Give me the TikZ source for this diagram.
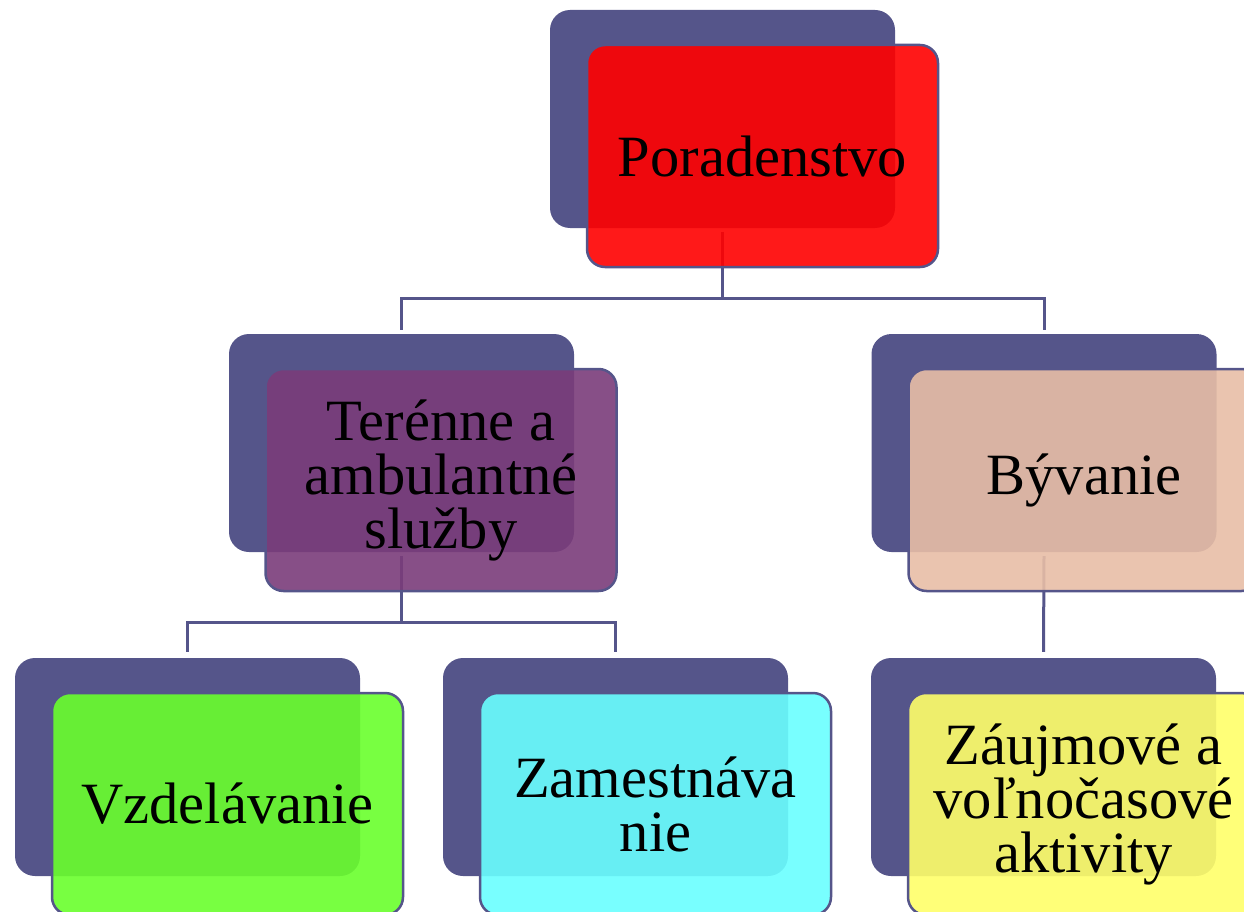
\documentclass[tikz,border=0pt]{standalone}
\usepackage{fontspec}
\setmainfont{Liberation Serif}
\definecolor{slate}{RGB}{85,85,138}
\definecolor{cRed}{RGB}{255,0,0}
\definecolor{cPurple}{RGB}{122,60,122}
\definecolor{cTan}{RGB}{232,190,166}
\definecolor{cGreen}{RGB}{105,255,44}
\definecolor{cCyan}{RGB}{105,255,255}
\definecolor{cYellow}{RGB}{255,255,105}

\begin{document}
\begin{tikzpicture}[x=1pt,y=-1pt,
  backbox/.style={fill=slate,rounded corners=20pt,minimum width=345pt,minimum height=218pt,inner sep=0pt},
  frontbox/.style={draw=slate,line width=2.5pt,fill opacity=0.9,text opacity=1,rounded corners=18pt,
    minimum width=351pt,minimum height=222pt,inner sep=0pt,align=center,
    font=\fontsize{58.5}{54}\selectfont},
  link/.style={draw=slate,line width=3pt}]
  \clip (0,0) rectangle (1244,912);
  % shadow boxes behind each topic
  \foreach \n/\x/\y in {por/722.5/119,ter/401.5/443,byv/1044/443,vzd/187.5/767,zam/615.5/767,zau/1043.5/767}
    \node[backbox] (\n b) at (\x,\y) {};
  % tree links
  \draw[link] ([yshift=-4pt]porb.south) -- ++(0,66) coordinate (j1);
  \draw[link] ([yshift=4pt]terb.north) |- (j1) -| ([yshift=4pt]byvb.north);
  \draw[link] ([yshift=-4pt]terb.south) -- ++(0,66) coordinate (j2);
  \draw[link] ([yshift=6pt]vzdb.north) |- (j2) -| ([yshift=6pt]zamb.north);
  \draw[link] ([yshift=-4pt]byvb.south) -- ([yshift=6pt]zaub.north);
  % coloured topic boxes
  \foreach \n/\x/\y/\c/\t in {por/762.5/156/cRed/Poradenstvo,
      ter/441/480/cPurple/{Terénne a\\ambulantné\\služby},
      byv/1084/480/cTan/Bývanie,
      vzd/227.5/804/cGreen/Vzdelávanie,
      zam/655.5/804/cCyan/{Zamestnáva\\nie},
      zau/1083.5/804/cYellow/{Záujmové a\\voľnočasové\\aktivity}}
    \node[frontbox,fill=\c] (\n) at (\x,\y) {\t};
\end{tikzpicture}
\end{document}
